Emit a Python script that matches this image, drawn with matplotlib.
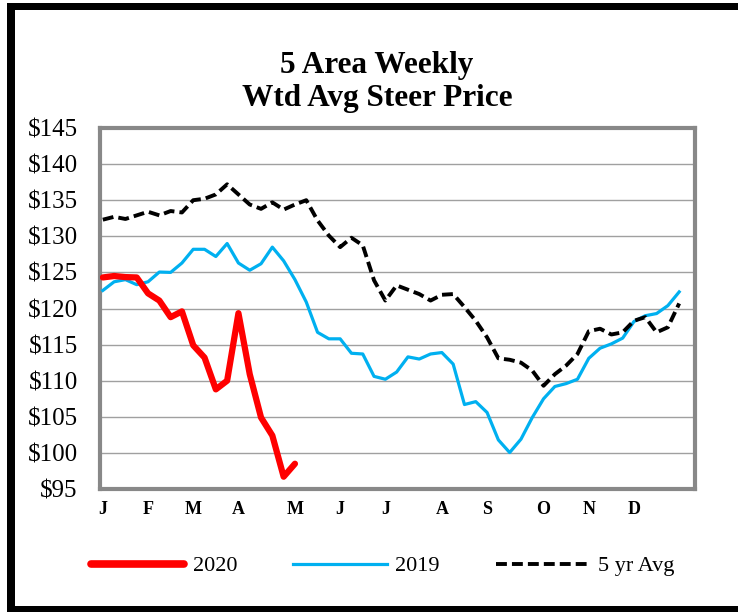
import matplotlib
matplotlib.use("Agg")
import matplotlib.pyplot as plt
from matplotlib.patches import Rectangle

# weekly prices, $/cwt
y2020 = [124.3, 124.5, 124.35, 124.3, 122.1, 121.1, 118.8, 119.6, 114.9, 113.2,
         108.8, 110.0, 119.35, 110.9, 104.9, 102.4, 96.7, 98.5]
y2019 = [122.5, 123.7, 124.0, 123.3, 123.7, 125.05, 125.0, 126.3, 128.2, 128.2,
         127.2, 129.0, 126.3, 125.3, 126.2, 128.5, 126.6, 124.0, 120.9, 116.7,
         115.8, 115.8, 113.8, 113.7, 110.6, 110.2, 111.2, 113.3, 113.0, 113.7,
         113.9, 112.3, 106.7, 107.1, 105.6, 101.8, 100.05, 101.9, 104.9, 107.5,
         109.2, 109.6, 110.2, 113.1, 114.5, 115.1, 115.9, 118.2, 119.0, 119.3,
         120.4, 122.3]
avg5 = [132.3, 132.7, 132.4, 132.9, 133.4, 132.9, 133.5, 133.3, 135.0, 135.2,
        135.8, 137.2, 135.8, 134.4, 133.8, 134.7, 133.7, 134.4, 135.0, 132.2,
        130.1, 128.5, 129.8, 128.75, 123.9, 121.1, 123.2, 122.6, 122.0, 121.1,
        121.9, 122.0, 120.2, 118.3, 116.0, 113.1, 112.9, 112.5, 111.4, 109.3,
        110.9, 112.1, 113.7, 116.85, 117.2, 116.4, 116.7, 118.3, 118.8, 116.7,
        117.4, 120.7]
month_weeks = [0, 4, 8, 12, 17, 21, 25, 30, 34, 39, 43, 47]
month_labels = ["J", "F", "M", "A", "M", "J", "J", "A", "S", "O", "N", "D"]
y_ticks = list(range(95, 146, 5))

W, H = 738, 612
fig = plt.figure(figsize=(W / 100, H / 100), dpi=100)
serif = "Liberation Serif"

# outer black frame (left, top, bottom)
for x0, y0, w, h in [(7, 3, 8, 609), (7, 3, 731, 7), (7, 606, 731, 6)]:
    fig.add_artist(Rectangle((x0 / W, 1 - (y0 + h) / H), w / W, h / H,
                             transform=fig.transFigure, color="black", lw=0))

ax = fig.add_axes([100 / W, 1 - 489 / H, 595 / W, 361 / H])
weeks20 = range(len(y2020))
weeks19 = range(len(y2019))
weeks5 = range(len(avg5))
l20, = ax.plot(weeks20, y2020, color="#ff0000", lw=4.5, solid_capstyle="round", zorder=4, label="2020")
l19, = ax.plot(weeks19, y2019, color="#00b0f0", lw=2.3, zorder=3, label="2019")
l5, = ax.plot(weeks5, avg5, color="black", lw=2.8, dashes=(2.8, 1.3), zorder=3, label="5 yr Avg")

ax.set_xlim(-0.25, 52.4)
ax.set_ylim(95, 145)
ax.set_yticks(y_ticks)
ax.set_yticklabels([f"${v}" for v in y_ticks], fontfamily=serif, fontsize=18)
ax.set_xticks(month_weeks)
ax.set_xticklabels(month_labels, fontfamily=serif, fontsize=13, fontweight="bold")
ax.tick_params(axis="y", length=0, pad=16)
ax.tick_params(axis="x", length=0, pad=9)
ax.yaxis.grid(True, color="#a0a0a0", lw=1.0)
ax.set_axisbelow(True)
for s in ax.spines.values():
    s.set_color("#888888")
    s.set_linewidth(3)

fig.text(377 / W, 1 - 73 / H, "5 Area Weekly", ha="center", va="baseline",
         fontfamily=serif, fontweight="bold", fontsize=22.5)
fig.text(377 / W, 1 - 106 / H, "Wtd Avg Steer Price", ha="center", va="baseline",
         fontfamily=serif, fontweight="bold", fontsize=22.5)

leg = fig.legend(handles=[l20, l19, l5], loc="center left",
                 bbox_to_anchor=(91 / W, 1 - 566 / H), ncol=3, frameon=False,
                 borderpad=0, borderaxespad=0, handlelength=4.2, handletextpad=0.4,
                 columnspacing=2.5, prop={"family": serif, "size": 16})
leg.get_lines()[0].set_linewidth(5.5)

fig.savefig("out.png", dpi=100)
